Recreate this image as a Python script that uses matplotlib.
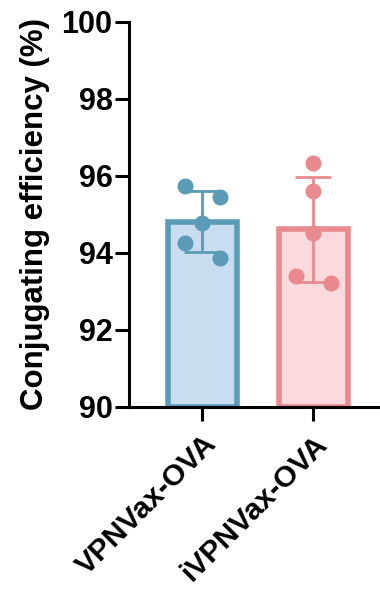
import numpy as np
import matplotlib.pyplot as plt

plt.rcParams['font.family'] = ['Liberation Sans', 'DejaVu Sans']
plt.rcParams['font.weight'] = 'bold'

# data
groups = ['VPNVax-OVA', 'iVPNVax-OVA']
vpn = [95.73, 95.44, 94.79, 94.25, 93.86]
ivpn = [96.33, 95.61, 94.51, 93.41, 93.21]
values = [vpn, ivpn]

edge_colors = ['#5a9bb6', '#e98b8e']
fill_colors = ['#c8ddf0', '#fadadc']

means = [np.mean(v) for v in values]
sds = [np.std(v, ddof=1) for v in values]

fig = plt.figure(figsize=(3.8, 5.94), dpi=100)
ax = fig.add_axes([0.340, 0.315, 0.66, 0.648])

x = np.arange(len(groups))
ax.bar(x, [m - 90 for m in means], bottom=90, width=0.62,
       color=fill_colors, edgecolor=edge_colors, linewidth=4, zorder=1)

# dots spread sideways like the original scatter
jitter = [[-0.16, 0.16, 0, -0.16, 0.16], [0, 0, 0, -0.16, 0.16]]
for i, v in enumerate(values):
    ax.errorbar(x[i], means[i], yerr=sds[i], color=edge_colors[i],
                capsize=13, elinewidth=2, capthick=2, zorder=2)
    ax.plot(x[i] + np.array(jitter[i]), v, 'o', color=edge_colors[i],
            markersize=10.5, zorder=3)

ax.set_ylim(90, 100)
ax.set_yticks([90, 92, 94, 96, 98, 100])
ax.set_xlim(-0.66, 1.6)
ax.set_xticks(x)
ax.set_xticklabels(groups, rotation=45, ha='right', rotation_mode='anchor',
                   fontsize=21.5, fontweight='bold')
ax.set_ylabel('Conjugating efficiency (%)', fontsize=22.5, fontweight='bold',
              labelpad=8)
ax.tick_params(axis='y', labelsize=22, width=2.2, length=10, pad=2)
ax.tick_params(axis='x', width=2.2, length=10, pad=6)
for lab in ax.get_yticklabels():
    lab.set_fontweight('bold')

ax.spines['top'].set_visible(False)
ax.spines['right'].set_visible(False)
ax.spines['left'].set_linewidth(2.2)
ax.spines['bottom'].set_linewidth(2.2)

fig.savefig('out.png', dpi=100)
